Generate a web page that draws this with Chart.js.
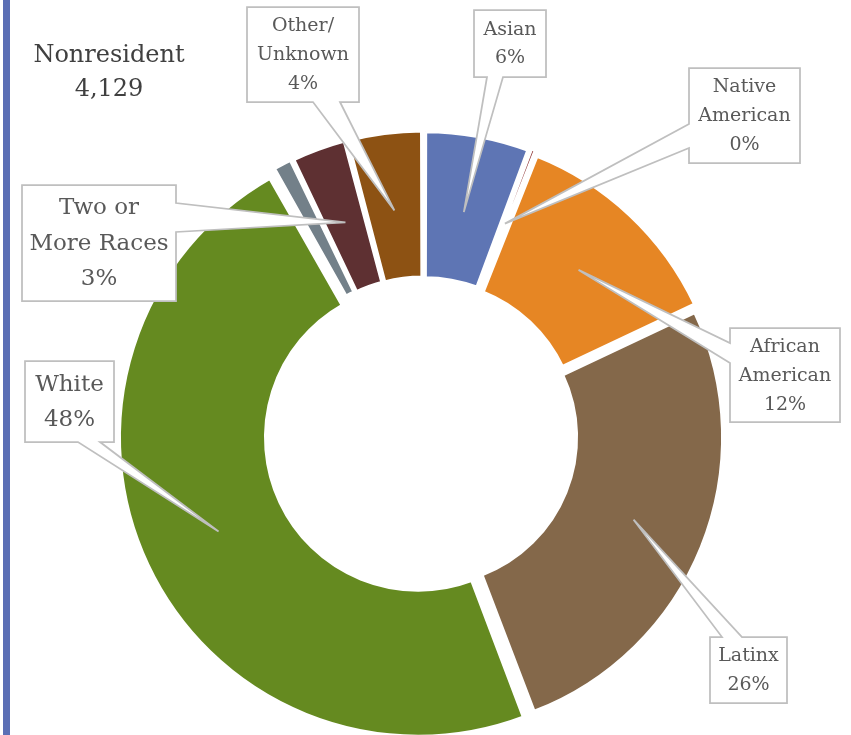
<!DOCTYPE html>
<html>
<head>
<meta charset="utf-8">
<script src="https://cdn.jsdelivr.net/npm/chart.js@4"></script>
<style>
  html, body { margin: 0; padding: 0; overflow: hidden; background: #fff; }
  #wrap { position: absolute; left: 0; top: 0; width: 851px; height: 760px; }
  #bar { position: absolute; left: 3px; top: 0; width: 7px; height: 735px; background: #5b6fb5; }
</style>
</head>
<body>
<div id="wrap"><canvas id="chartCanvas"></canvas></div>
<div id="bar"></div>
<script>
// share of nonresident students by race / ethnicity (percent)
const categories = ["Asian", "Native American", "African American", "Latinx", "White",
    "Pacific Islander", "Two or More Races", "Other/Unknown"];
const shares = [5.7, 0.3, 12.0, 26.2, 47.6, 1.1, 3.0, 4.1];
const colors = ["#5e75b4", "#8b2e2e", "#e68624", "#84684a", "#658a20", "#738089", "#5e3032", "#8d5213"];
const titleLines = ["Nonresident", "4,129"];

const EXPLODE = 24; // chart.js moves each arc offset/4 px outward

// callout boxes drawn by hand-placed label boxes, pointer goes to the arc centre
const callouts = [
    { index: 0, lines: ["Asian"], box: [474, 10, 72, 67], side: "bottom", base: [487, 503], font: 19, lh: 28 },
    { index: 1, lines: ["Native", "American"], box: [689, 68, 111, 95], side: "left", base: [124, 148], font: 19, lh: 29 },
    { index: 2, lines: ["African", "American"], box: [730, 328, 110, 94], side: "left", base: [343, 363], font: 19, lh: 29 },
    { index: 3, lines: ["Latinx"], box: [710, 637, 77, 66], side: "top", base: [722, 742], font: 19, lh: 29 },
    { index: 4, lines: ["White"], box: [25, 361, 89, 81], side: "bottom", base: [78, 100], font: 23, lh: 35 },
    { index: 6, lines: ["Two or", "More Races"], box: [22, 185, 154, 116], side: "right", base: [203, 232], font: 23, lh: 35.5 },
    { index: 7, lines: ["Other/", "Unknown"], box: [247, 7, 112, 95], side: "bottom", base: [313, 340], font: 19, lh: 29 },
];

const serif = "'DejaVu Serif', 'Liberation Serif', serif";

const calloutPlugin = {
    id: "callouts",
    afterDatasetsDraw(chart) {
        const ctx = chart.ctx;
        const arcs = chart.getDatasetMeta(0).data;
        const total = shares.reduce((a, b) => a + b, 0);
        ctx.save();
        callouts.forEach((c) => {
            const p = arcs[c.index].getProps(["x", "y", "startAngle", "endAngle", "innerRadius", "outerRadius"]);
            const mid = (p.startAngle + p.endAngle) / 2;
            const rr = (p.innerRadius + p.outerRadius) / 2 + EXPLODE / 4;
            const tip = { x: p.x + Math.cos(mid) * rr, y: p.y + Math.sin(mid) * rr };
            const [x, y, w, h] = c.box;
            const [b1, b2] = c.base;
            ctx.beginPath();
            ctx.moveTo(x, y);
            if (c.side === "top") { ctx.lineTo(b1, y); ctx.lineTo(tip.x, tip.y); ctx.lineTo(b2, y); }
            ctx.lineTo(x + w, y);
            if (c.side === "right") { ctx.lineTo(x + w, b1); ctx.lineTo(tip.x, tip.y); ctx.lineTo(x + w, b2); }
            ctx.lineTo(x + w, y + h);
            if (c.side === "bottom") { ctx.lineTo(b2, y + h); ctx.lineTo(tip.x, tip.y); ctx.lineTo(b1, y + h); }
            ctx.lineTo(x, y + h);
            if (c.side === "left") { ctx.lineTo(x, b2); ctx.lineTo(tip.x, tip.y); ctx.lineTo(x, b1); }
            ctx.closePath();
            ctx.fillStyle = "#ffffff";
            ctx.fill();
            ctx.lineWidth = 1.75;
            ctx.strokeStyle = "#bfbfbf";
            ctx.lineJoin = "miter";
            ctx.stroke();

            const pct = Math.round(shares[c.index] / total * 100) + "%";
            const lines = c.lines.concat([pct]);
            ctx.fillStyle = "#595959";
            ctx.font = c.font + "px " + serif;
            ctx.textAlign = "center";
            ctx.textBaseline = "middle";
            const cy = y + h / 2 + 1;
            lines.forEach((t, i) => {
                ctx.fillText(t, x + w / 2, cy + (i - (lines.length - 1) / 2) * c.lh);
            });
        });

        ctx.fillStyle = "#404040";
        ctx.font = "24px " + serif;
        ctx.textAlign = "center";
        ctx.textBaseline = "middle";
        ctx.fillText(titleLines[0], 109, 56);
        ctx.fillText(titleLines[1], 109, 90);
        ctx.restore();
    },
};

new Chart(document.getElementById("chartCanvas").getContext("2d"), {
    type: "doughnut",
    data: {
        labels: categories,
        datasets: [
            {
                data: shares,
                backgroundColor: colors,
                borderColor: "#ffffff",
                borderWidth: [4, 3, 4, 4, 4, 4, 4, 4],
                offset: EXPLODE,
                hoverOffset: 0,
            },
        ],
    },
    options: {
        responsive: true,
        maintainAspectRatio: false,
        animation: false,
        cutout: "50%",
        layout: { padding: { left: 115.5, right: 119.5, top: 127, bottom: 17 } },
        plugins: {
            legend: { display: false },
            tooltip: { enabled: false },
        },
        events: [],
    },
    plugins: [calloutPlugin],
});
</script>
</body>
</html>
